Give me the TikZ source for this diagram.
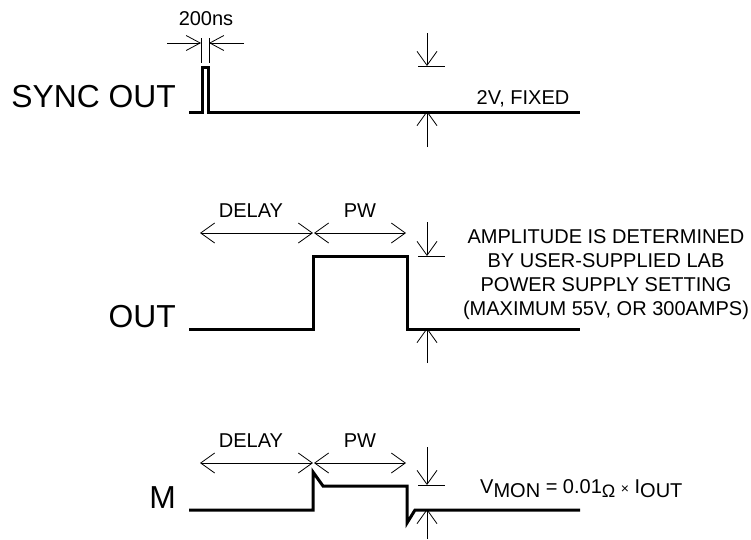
\documentclass[tikz,border=0pt]{standalone}
\usepackage{fontspec}
\setmainfont{Liberation Sans}
\usetikzlibrary{arrows.meta}

\tikzset{
  wave/.style={line width=3pt, line join=miter},
  dimline/.style={line width=0.8pt},
  signame/.style={font=\fontsize{31.8}{36}\selectfont, anchor=base east, inner sep=0pt},
  lbl/.style={anchor=base, inner sep=0pt},
  >={Straight Barb[length=14pt,width=20pt]}
}

\begin{document}
\begin{tikzpicture}[x=1pt, y=-1pt, font=\fontsize{20}{24}\selectfont]
  \useasboundingbox (0,0) rectangle (751,539);

  % signal names
  \node[signame] (sync) at (176,107) {SYNC OUT};
  \node[signame] (out)  at (176,327) {OUT};
  \node[signame] (mon)  at (176,508) {M};

  % waveforms
  \draw[wave] (189,112) -- (202,112) -- (202,67) -- (208,67) -- (208,112) -- (580,112);
  \draw[wave] (189,329) -- (313,329) -- (313,256) -- (407,256) -- (407,329) -- (580,329);
  \draw[wave] (189,510) -- (313,510) -- (313,472) -- (323,486) -- (407,486)
    -- (407,523) -- (415,510) -- (580,510);

  % pulse width of sync
  \begin{scope}[dimline, >={Straight Barb[length=14pt,width=15pt]}]
    \draw (201,38) -- (201,63);
    \draw (209,38) -- (209,63);
    \draw[->] (167,43) -- (201,43);
    \draw[->] (244,43) -- (209,43);
  \end{scope}
  \node[lbl] (pwsync) at (206,25) {200ns};

  % delay and pw
  \foreach \y/\n in {233/o,463/m}{
    \draw[dimline,<->] (200,\y) -- (313,\y);
    \draw[dimline,<->] (314,\y) -- (406,\y);
    \node[lbl] (delay\n) at (251,\y-16) {DELAY};
    \node[lbl] (pw\n) at (360,\y-16) {PW};
  }

  % amplitude markers
  \foreach \t/\k/\b/\e in {33/66/111/147, 222/256/328/363, 447/485/509/539}{
    \draw[dimline,->] (427,\t) -- (427,\k);
    \draw[dimline] (418,\k) -- (445,\k);
    \draw[dimline,->] (427,\e) -- (427,\b);
  }

  \node[lbl] (fixed) at (523,104) {2V, FIXED};

  \foreach \i/\txt in {0/AMPLITUDE IS DETERMINED, 1/BY USER-SUPPLIED LAB,
                       2/POWER SUPPLY SETTING, 3/{(MAXIMUM 55V, OR 300AMPS)}}
    \node[lbl] (amp\i) at (606,243+24*\i) {\txt};

  \node[anchor=base west, inner sep=0pt] (vmon) at (480,493)
    {V\raisebox{-4pt}{MON} = 0.01\raisebox{-4pt}{\fontsize{18}{18}\selectfont Ω}
     {\fontsize{14}{14}\selectfont ×} I\raisebox{-4pt}{OUT}};
\end{tikzpicture}
\end{document}
